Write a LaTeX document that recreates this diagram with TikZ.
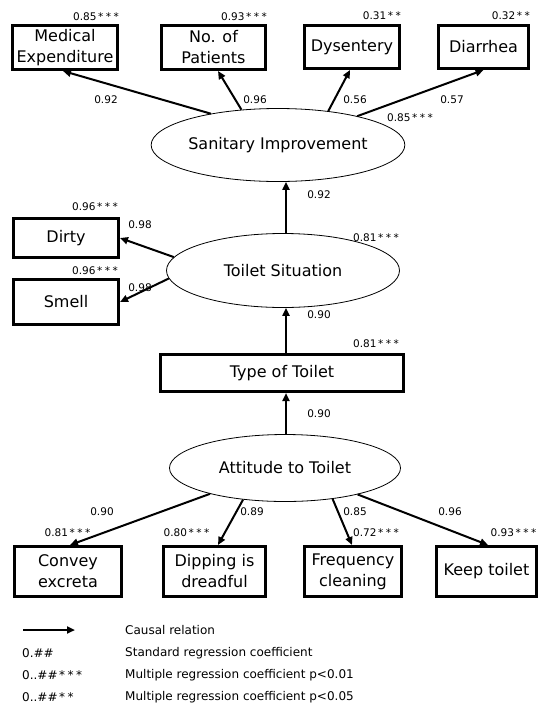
\documentclass[tikz,border=0pt]{standalone}
\usepackage{fontspec}
\setmainfont{DejaVu Sans}
\usetikzlibrary{shapes.geometric,arrows.meta}
\newcommand\stIII{\kern1.5pt*\kern2.5pt*\kern2.5pt*}
\newcommand\stII{\kern1.5pt*\kern2.5pt*}
\begin{document}
\begin{tikzpicture}[x=1pt,y=-1pt,
  box/.style={draw,line width=3pt,rectangle,inner sep=0pt,align=center,font=\fontsize{16}{21}\selectfont},
  lat/.style={draw,line width=0.8pt,ellipse,inner sep=0pt,font=\fontsize{16}{20}\selectfont},
  arr/.style={line width=2pt,-{Triangle[length=8pt,width=7pt]}},
  lab/.style={font=\fontsize{10.5}{12}\selectfont,inner sep=0pt},
  leg/.style={font=\fontsize{12}{14}\selectfont,inner sep=0pt,anchor=west}]
\useasboundingbox[fill=white] (0,0) rectangle (548,710);

% top observed variables
\node[box,minimum width=105,minimum height=44] (med) at (65,47.5) {Medical\\Expenditure};
\node[box,minimum width=104,minimum height=44] (pat) at (213.5,47.5) {No. of\\Patients};
\node[box,minimum width=95,minimum height=43] (dys) at (352,47) {Dysentery};
\node[box,minimum width=90,minimum height=43] (dia) at (483.5,47) {Diarrhea};

% latent variables and middle
\node[lat,minimum width=241,minimum height=73] (san) at (278,145) {Sanitary Improvement};
\node[lat,minimum width=233,minimum height=74] (ts) at (283,270.5) {Toilet Situation};
\node[box,minimum width=105,minimum height=39] (dirty) at (66,238) {Dirty};
\node[box,minimum width=105,minimum height=45] (smell) at (66,302) {Smell};
\node[box,minimum width=243,minimum height=37] (typ) at (282,373) {Type of Toilet};
\node[lat,minimum width=231,minimum height=67] (att) at (285,468) {Attitude to Toilet};

% bottom observed variables
\node[box,minimum width=107,minimum height=50] (conv) at (68,571.5) {Convey\\excreta};
\node[box,minimum width=102,minimum height=50] (dip) at (214.5,571.5) {Dipping is\\dreadful};
\node[box,minimum width=97,minimum height=50] (freq) at (353,571.5) {Frequency\\cleaning};
\node[box,minimum width=100,minimum height=50] (keep) at (486.5,571.5) {Keep toilet};

% arrows
\draw[arr] (san.155.6) -- ([xshift=-2pt]med.south);
\draw[arr] (san.136.2) -- ([xshift=4.5pt]pat.south);
\draw[arr] (san.34.2) -- ([xshift=-2pt]dys.south);
\draw[arr] (san.20.6) -- (dia.south);
\draw[arr] ([xshift=3pt]ts.north) -- ([xshift=8pt]san.south);
\draw[arr] (ts.173.6) -- (dirty.east);
\draw[arr] (ts.184.8) -- (smell.east);
\draw[arr] ([xshift=4pt]typ.north) -- ([xshift=3pt]ts.south);
\draw[arr] ([xshift=1pt]att.north) -- ([xshift=4pt]typ.south);
\draw[arr] (att.199.1) -- ([xshift=2pt]conv.north);
\draw[arr] (att.217.5) -- ([xshift=3.5pt]dip.north);
\draw[arr] (att.327.6) -- ([xshift=-1pt]freq.north);
\draw[arr] (att.340.9) -- ([xshift=1.5pt]keep.north);

% coefficient labels
\node[lab,anchor=east] (rmed) at (119,17) {0.85\stIII};
\node[lab,anchor=east] (rpat) at (267,17) {0.93\stIII};
\node[lab,anchor=east] (rdys) at (401,16) {0.31\stII};
\node[lab,anchor=east] (rdia) at (530,16) {0.32\stII};
\node[lab] (cmed) at (106,100) {0.92};
\node[lab] (cpat) at (255,100) {0.96};
\node[lab] (cdys) at (355,100) {0.56};
\node[lab] (cdia) at (452,100) {0.57};
\node[lab] (rsan) at (410,118) {0.85\stIII};
\node[lab] (cts) at (319,195) {0.92};
\node[lab] (rts) at (376,238) {0.81\stIII};
\node[lab,anchor=east] (rdirty) at (118,207) {0.96\stIII};
\node[lab,anchor=east] (rsmell) at (118,271) {0.96\stIII};
\node[lab] (cdirty) at (140,225) {0.98};
\node[lab] (csmell) at (140,288) {0.98};
\node[lab] (ctyp) at (319,315) {0.90};
\node[lab] (rtyp) at (376,344) {0.81\stIII};
\node[lab] (catt) at (319,414) {0.90};
\node[lab] (cconv) at (102,512) {0.90};
\node[lab] (cdip) at (252,512) {0.89};
\node[lab] (cfreq) at (355,512) {0.85};
\node[lab] (ckeep) at (450,512) {0.96};
\node[lab] (rconv) at (67.5,533) {0.81\stIII};
\node[lab] (rdip) at (186.5,533) {0.80\stIII};
\node[lab] (rfreq) at (376,533) {0.72\stIII};
\node[lab] (rkeep) at (513.5,533) {0.93\stIII};

% legend
\coordinate (la) at (23,630);
\coordinate (lb) at (75,630);
\draw[arr] (la) -- (lb);
\node[leg] (lg1) at (125,630) {Causal relation};
\node[leg] (lk2) at (22,653) {0.\#\#};
\node[leg] (lg2) at (125,653) {Standard regression coefficient};
\node[leg] (lk3) at (22,675) {0..\#\#\stIII};
\node[leg] (lg3) at (125,675) {Multiple regression coefficient p<0.01};
\node[leg] (lk4) at (22,697) {0..\#\#\stII};
\node[leg] (lg4) at (125,697) {Multiple regression coefficient p<0.05};
\end{tikzpicture}
\end{document}
